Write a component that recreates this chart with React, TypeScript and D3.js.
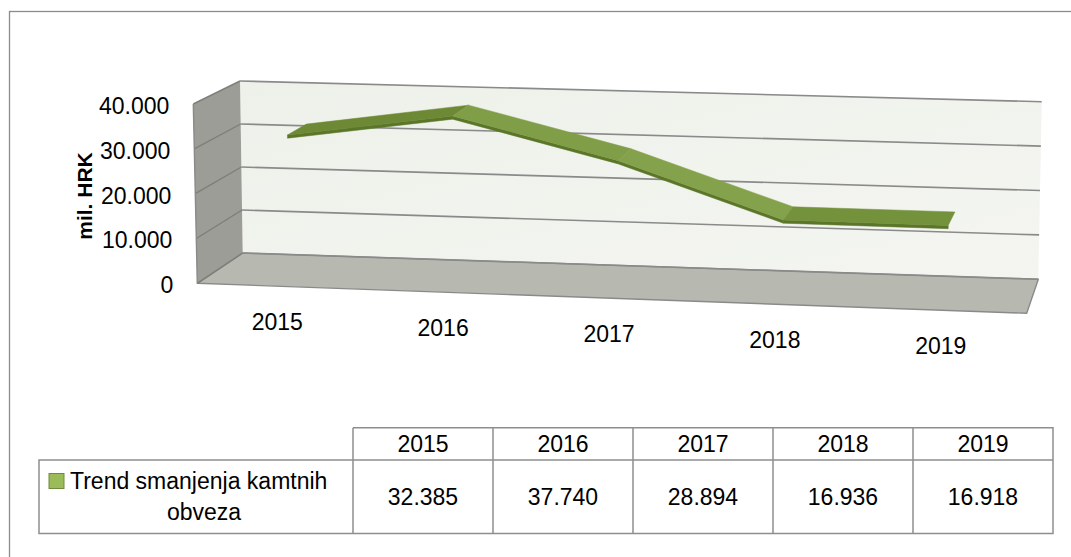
import React from "react";
import * as d3 from "d3";

const years: string[] = ["2015", "2016", "2017", "2018", "2019"];
const values: number[] = [32385, 37740, 28894, 16936, 16918];
const yTicks: number[] = [0, 10000, 20000, 30000, 40000];
const seriesName: string[] = ["Trend smanjenja kamtnih", "obveza"];
const yTitle = "mil. HRK";

const W = 1071;
const H = 557;
const FONT = "'Liberation Sans', Arial, sans-serif";

// Box corners (u: category axis, v: value axis, d: depth 0 = back, 1 = front)
type P = [number, number];
const C: Record<string, P> = {
  "000": [242.7, 253],
  "010": [240, 81],
  "100": [1038.3, 279.3],
  "110": [1041.7, 101.7],
  "001": [197.3, 283.3],
  "011": [193.3, 104],
  "101": [1026.7, 313.3],
  "111": [1029.7, 128.7],
};
const lerp = (a: P, b: P, t: number): P => [a[0] + (b[0] - a[0]) * t, a[1] + (b[1] - a[1]) * t];
function proj(u: number, v: number, d: number): P {
  const back = lerp(lerp(C["000"], C["010"], v), lerp(C["100"], C["110"], v), u);
  const front = lerp(lerp(C["001"], C["011"], v), lerp(C["101"], C["111"], v), u);
  return lerp(back, front, d);
}

const xScale = d3.scalePoint<string>().domain(years).range([0, 1]).padding(0.5);
const yScale = d3.scaleLinear().domain([0, 40000]).range([0, 1]);
const locale = d3.formatLocale({ decimal: ",", thousands: ".", grouping: [3], currency: ["", ""] });
const fmt = locale.format(",d");
const poly = (pts: P[]) => (d3.line()(pts) as string) + "Z";

export default function App() {
  const D0 = 0.33;
  const D1 = 0.77;
  const TH = 0.018;
  const shade = d3.interpolateRgb("#64802d", "#88a54e");

  const segs = values.slice(0, -1).map((v, i) => {
    const u0 = xScale(years[i]) as number;
    const u1 = xScale(years[i + 1]) as number;
    const v0 = yScale(v);
    const v1 = yScale(values[i + 1]);
    const top = [proj(u0, v0, D0), proj(u1, v1, D0), proj(u1, v1, D1), proj(u0, v0, D1)];
    const front = [proj(u0, v0, D1), proj(u1, v1, D1), proj(u1, v1 - TH, D1), proj(u0, v0 - TH, D1)];
    const s = v1 - v0;
    const t = Math.max(0, Math.min(1, 0.45 - s * 1.5));
    return { top, front, color: shade(t) };
  });

  const sideWall = [proj(0, 0, 0), proj(0, 1, 0), proj(0, 1, 1), proj(0, 0, 1)];
  const backWall = [proj(0, 0, 0), proj(0, 1, 0), proj(1, 1, 0), proj(1, 0, 0)];
  const floor = [proj(0, 0, 0), proj(1, 0, 0), proj(1, 0, 1), proj(0, 0, 1)];

  const colX = [353, 493, 633, 773, 913, 1053];
  const tTop = 427.7;
  const tMid = 460;
  const tBot = 533.5;
  const tLeft = 39;

  return (
    <svg
      width={W}
      height={H}
      style={{ position: "absolute", left: 0, top: 0, background: "#fff" }}
      fontFamily={FONT}
    >
      <rect x={9.5} y={11.5} width={1200} height={700} fill="#fff" stroke="#8c8c8c" strokeWidth={1.3} />

      <defs>
        <linearGradient id="bw" x1="0" y1="0" x2="1" y2="1">
          <stop offset="0" stopColor="#eef1ea" />
          <stop offset="1" stopColor="#f4f5f1" />
        </linearGradient>
      </defs>

      {/* walls */}
      <path d={poly(backWall)} fill="url(#bw)" />
      <path d={poly(sideWall)} fill="#9b9d96" />
      <path d={poly(floor)} fill="#b7b9b1" stroke="#8a8a8a" strokeWidth={1.4} strokeLinejoin="round" />

      {/* gridlines */}
      {yTicks.map((t) => {
        const v = yScale(t);
        const a = proj(0, v, 1);
        const b = proj(0, v, 0);
        const c = proj(1, v, 0);
        return (
          <g key={t}>
            <path d={d3.line()([a, b]) as string} stroke="#7d7f79" strokeWidth={1.4} fill="none" />
            <path d={d3.line()([b, c]) as string} stroke="#8a8a8a" strokeWidth={1.6} fill="none" />
          </g>
        );
      })}
      <path d={d3.line()([proj(0, 0, 1), proj(0, 1, 1)]) as string} stroke="#8a8a8a" strokeWidth={1.4} fill="none" />

      {/* ribbon */}
      {segs.map((s, i) => (
        <g key={i}>
          <path d={poly(s.front)} fill="#5b7628" stroke="#5b7628" strokeWidth={0.5} />
          <path d={poly(s.top)} fill={s.color} stroke={s.color} strokeWidth={0.5} strokeLinejoin="round" />
        </g>
      ))}

      {/* y labels */}
      {yTicks.map((t) => {
        const p = proj(0, yScale(t), 1);
        return (
          <text key={t} x={p[0] - 24} y={p[1] + 2} textAnchor="end" dominantBaseline="central" fontSize={23} fill="#000">
            {fmt(t)}
          </text>
        );
      })}
      <text
        transform="translate(84,196) rotate(-90)"
        textAnchor="middle"
        dominantBaseline="central"
        fontSize={21}
        fontWeight="bold"
        fill="#000"
      >
        {yTitle}
      </text>

      {/* x labels */}
      {years.map((y) => {
        const p = proj(xScale(y) as number, 0, 1);
        return (
          <text key={y} x={p[0] - 3} y={p[1] + 36} textAnchor="middle" dominantBaseline="central" fontSize={23} fill="#000">
            {y}
          </text>
        );
      })}

      {/* data table */}
      <g stroke="#8e8e8e" strokeWidth={1.5} fill="none">
        <path d={`M${colX[0]},${tTop}H${colX[5]}V${tBot}H${tLeft}V${tMid}H${colX[5]}`} />
        {colX.slice(0, 5).map((x) => (
          <path key={x} d={`M${x},${tTop}V${tBot}`} />
        ))}
      </g>
      {years.map((y, i) => (
        <text key={y} x={(colX[i] + colX[i + 1]) / 2} y={444} textAnchor="middle" dominantBaseline="central" fontSize={23} fill="#000">
          {y}
        </text>
      ))}
      {values.map((v, i) => (
        <text key={i} x={(colX[i] + colX[i + 1]) / 2} y={497} textAnchor="middle" dominantBaseline="central" fontSize={23} fill="#000">
          {fmt(v)}
        </text>
      ))}
      <rect x={49} y={473.5} width={15} height={15} fill="#9bbb59" stroke="#71893f" strokeWidth={1} />
      <text x={70} y={481} dominantBaseline="central" fontSize={23} fill="#000">
        {seriesName[0]}
      </text>
      <text x={204} y={512} textAnchor="middle" dominantBaseline="central" fontSize={23} fill="#000">
        {seriesName[1]}
      </text>
    </svg>
  );
}
